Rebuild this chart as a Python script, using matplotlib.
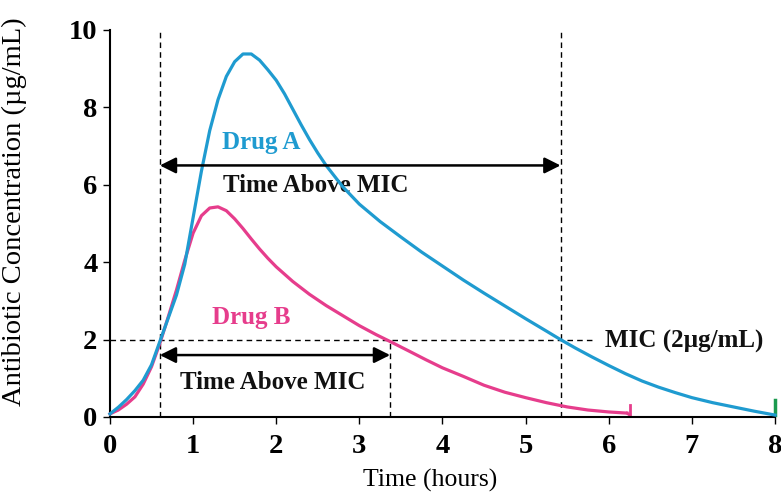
import matplotlib
matplotlib.use('Agg')
import matplotlib.pyplot as plt

# Concentration curves
drug_a_time = [0, 0.1, 0.2, 0.3, 0.4, 0.5, 0.6, 0.7, 0.8, 0.9, 1.0, 1.1, 1.2, 1.3, 1.4, 1.5,
               1.6, 1.7, 1.8, 1.9, 2.0, 2.1, 2.2, 2.3, 2.4, 2.5, 2.6, 2.8, 3.0, 3.25, 3.5,
               3.75, 4.0, 4.25, 4.5, 4.75, 5.0, 5.25, 5.42, 5.6, 5.8, 6.0, 6.2, 6.4, 6.6,
               6.8, 7.0, 7.25, 7.5, 7.75, 8.0]
drug_a_conc = [0.08, 0.25, 0.45, 0.68, 0.95, 1.35, 1.95, 2.55, 3.15, 3.95, 5.15, 6.35, 7.4, 8.2,
               8.8, 9.18, 9.38, 9.38, 9.22, 8.97, 8.7, 8.35, 7.95, 7.55, 7.17, 6.82, 6.5, 5.95,
               5.5, 5.05, 4.65, 4.26, 3.9, 3.54, 3.2, 2.87, 2.54, 2.22, 2.0, 1.78, 1.55, 1.33,
               1.12, 0.93, 0.77, 0.63, 0.5, 0.37, 0.26, 0.15, 0.05]

drug_b_time = [0, 0.1, 0.2, 0.3, 0.4, 0.5, 0.6, 0.7, 0.8, 0.9, 1.0, 1.1, 1.2, 1.3, 1.4, 1.5,
               1.6, 1.7, 1.8, 1.9, 2.0, 2.2, 2.4, 2.6, 2.8, 3.0, 3.2, 3.37, 3.6, 3.8, 4.0,
               4.25, 4.5, 4.75, 5.0, 5.25, 5.5, 5.75, 6.0, 6.22]
drug_b_conc = [0.08, 0.18, 0.33, 0.52, 0.85, 1.3, 1.9, 2.58, 3.28, 4.05, 4.75, 5.2, 5.4, 5.43,
               5.33, 5.12, 4.87, 4.6, 4.34, 4.1, 3.88, 3.5, 3.17, 2.88, 2.62, 2.36, 2.13,
               1.95, 1.7, 1.48, 1.27, 1.05, 0.82, 0.64, 0.5, 0.37, 0.26, 0.18, 0.13, 0.1]

mic = 2.0
onset = 0.6
drug_a_end = 5.42
drug_b_end = 3.37
drug_b_stop = 6.25
drug_a_stop = 8.0

x_ticks = [0, 1, 2, 3, 4, 5, 6, 7, 8]
y_ticks = [0, 2, 4, 6, 8, 10]

BLUE = '#1f9bd0'
PINK = '#e63d8c'
GREEN = '#1b9a4e'
SERIF = ['Liberation Serif', 'DejaVu Serif']

fig = plt.figure(figsize=(7.81, 4.94), dpi=100)
ax = fig.add_axes([0.1408, 0.1559, 0.8515, 0.7834])

ax.plot(drug_b_time, drug_b_conc, color=PINK, linewidth=2.3, clip_on=False, zorder=3,
        solid_joinstyle='round')
ax.plot(drug_a_time, drug_a_conc, color=BLUE, linewidth=2.3, clip_on=False, zorder=4,
        solid_joinstyle='round')

# small end ticks
ax.plot([drug_b_stop, drug_b_stop], [0.02, 0.3], color=PINK, linewidth=2, clip_on=False)
ax.plot([drug_b_time[-1], drug_b_stop], [drug_b_conc[-1], 0.05], color=PINK, linewidth=2, clip_on=False)
ax.plot([drug_a_stop, drug_a_stop], [0.05, 0.45], color=GREEN, linewidth=2.5, clip_on=False)

# MIC and time markers
dash = dict(color='black', linewidth=1.0, linestyle=(0, (4, 3)), zorder=2)
ax.plot([0, 5.82], [mic, mic], **dash)
ax.plot([onset, onset], [0, 9.95], **dash)
ax.plot([drug_a_end, drug_a_end], [0, 10], **dash)
ax.plot([drug_b_end, drug_b_end], [0, mic], **dash)

arrow = dict(arrowstyle='<|-|>', color='black', linewidth=1.8, mutation_scale=24, shrinkA=0, shrinkB=0)
ax.annotate('', xy=(onset, 6.5), xytext=(drug_a_end, 6.5), arrowprops=arrow, zorder=5)
ax.annotate('', xy=(onset, 1.6), xytext=(drug_b_end, 1.6), arrowprops=arrow, zorder=5)

bold = dict(family=SERIF, fontweight='bold', fontsize=18, ha='center', va='center')
ax.text(1.82, 7.08, 'Drug A', color=BLUE, **bold)
ax.text(2.48, 5.97, 'Time Above MIC', color='#111111', **bold)
ax.text(1.70, 2.56, 'Drug B', color=PINK, **bold)
ax.text(1.96, 0.88, 'Time Above MIC', color='#111111', **bold)
ax.text(5.96, 1.94, 'MIC (2\u00b5g/mL)', color='#111111', family=SERIF, fontweight='bold',
        fontsize=18, ha='left', va='center')

ax.set_xlim(0, 8)
ax.set_ylim(0, 10)
ax.set_xticks(x_ticks)
ax.set_yticks(y_ticks)
for side in ('top', 'right'):
    ax.spines[side].set_visible(False)
for side in ('left', 'bottom'):
    ax.spines[side].set_linewidth(1.5)
ax.tick_params(axis='both', direction='out', length=5, width=1)
ax.tick_params(axis='x', pad=7)
ax.tick_params(axis='y', pad=4)
for lab in ax.get_xticklabels() + ax.get_yticklabels():
    lab.set_family(SERIF)
    lab.set_fontweight('bold')
    lab.set_fontsize(20.5)

ax.set_xlabel('Time (hours)', family=SERIF, fontsize=18.5)
ax.xaxis.set_label_coords(3.85 / 8, -0.135)
ax.set_ylabel('Antibiotic Concentration (\u00b5g/mL)', family=SERIF, fontsize=20.5)
ax.yaxis.set_label_coords(-0.125, 0.53)

fig.savefig('out.png', dpi=100)
